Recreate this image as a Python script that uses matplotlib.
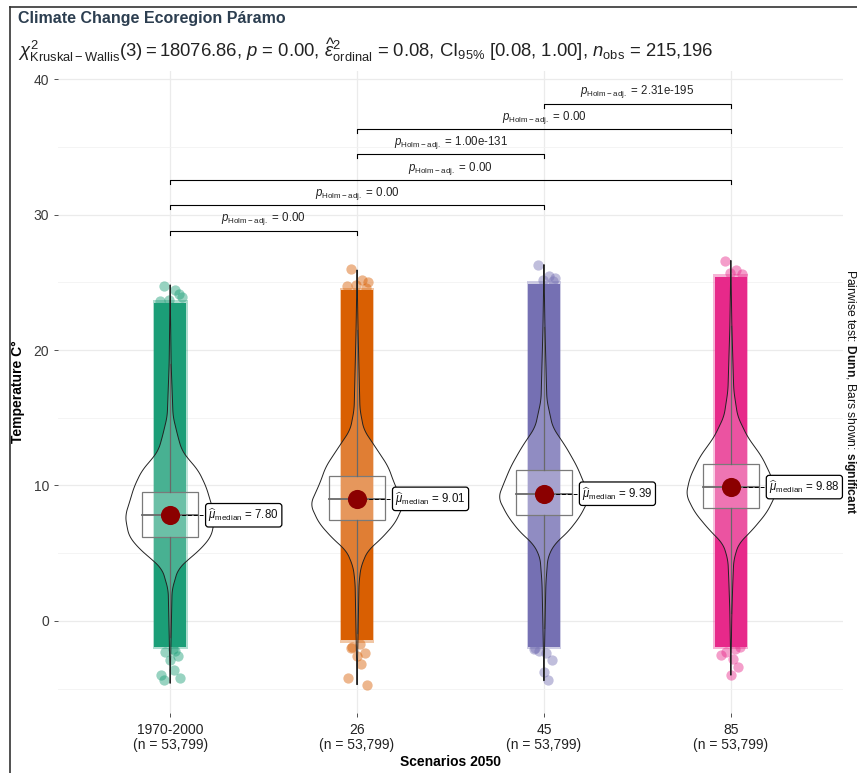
import numpy as np
import matplotlib
matplotlib.use("Agg")
import matplotlib.pyplot as plt
from matplotlib.patches import Rectangle, Polygon
from matplotlib.lines import Line2D

plt.rcParams.update({
    "font.family": ["Liberation Sans", "DejaVu Sans"],
    "mathtext.fontset": "custom",
    "mathtext.rm": "Liberation Sans",
    "mathtext.it": "Liberation Sans:italic",
    "mathtext.bf": "Liberation Sans:bold",
    "mathtext.sf": "Liberation Sans",
})

# ---- data -------------------------------------------------------------------
groups = ["1970-2000", "26", "45", "85"]
n_obs = [53799, 53799, 53799, 53799]
colors = ["#1B9E77", "#D95F02", "#7570B3", "#E7298A"]

medians = [7.80, 9.01, 9.39, 9.88]
q1 = [6.2, 7.45, 7.82, 8.3]
q3 = [9.55, 10.72, 11.14, 11.6]
whisk_lo = [-1.2, -0.9, -0.5, 0.6]
whisk_hi = [19.0, 21.5, 21.7, 21.8]

# dense part of the jittered cloud
cloud_lo = [-1.9, -1.4, -1.9, -1.9]
cloud_hi = [23.5, 24.4, 24.9, 25.4]
# sparse points at the extremes
tail_points = [
    [24.7, 24.4, 23.9, 23.7, 24.1, 23.6, -2.1, -2.3, -2.6, -2.9, -3.6, -4.0, -4.2, -4.4, -2.2],
    [26.0, 25.2, 25.0, 24.8, 24.6, 24.7, -1.7, -1.9, -2.4, -2.6, -3.2, -4.2, -4.7, -2.0],
    [26.3, 25.5, 25.3, 25.2, 25.1, -2.1, -2.4, -2.2, -2.9, -3.8, -4.4, -2.0],
    [26.6, 25.9, 25.6, 25.7, -1.9, -2.5, -2.8, -2.3, -3.4, -4.0, -2.1],
]

# violin outline: temperature levels and relative half-width
violin_levels = [
    [-4.6, -1.0, 2.3, 3.8, 4.5, 5.2, 6.2, 7.2, 7.8, 8.7, 9.9, 11.1, 12.1, 12.6, 13.6, 15.1, 19.0, 24.8],
    [-4.7, -1.0, 2.8, 4.0, 5.2, 6.0, 7.2, 8.6, 10.2, 11.4, 12.6, 14.1, 15.6, 21.5, 25.9],
    [-4.4, -0.5, 2.8, 4.7, 5.7, 6.5, 7.7, 9.1, 10.2, 11.4, 12.8, 14.3, 16.3, 21.7, 26.3],
    [-4.0, 0.6, 2.8, 4.5, 5.7, 6.7, 8.0, 9.3, 10.6, 12.1, 13.6, 15.1, 17.0, 21.8, 26.6],
]
violin_width = [
    [0, 1, 2, 8, 18, 30, 42, 45, 46, 42, 37, 29, 17, 12, 8, 3, 1, 0],
    [0, 1, 2, 4, 11, 24, 39, 48, 38, 32, 21, 7, 3, 1, 0],
    [0, 1, 2, 4, 11, 24, 37, 47, 41, 34, 23, 9, 3, 1, 0],
    [0, 1, 2, 3, 8, 22, 37, 46, 42, 32, 17, 7, 3, 1, 0],
]

pairs = [(1, 2), (1, 3), (1, 4), (2, 3), (2, 4), (3, 4)]
p_labels = ["0.00", "0.00", "0.00", "1.00e-131", "0.00", "2.31e-195"]

# ---- figure -----------------------------------------------------------------
fig = plt.figure(figsize=(8.57, 7.73), dpi=100)
ax = fig.add_axes([58 / 857, 1 - 713 / 773, 785 / 857, 642 / 773])

ax.set_xlim(0.4, 4.6)
ax.set_ylim(-6.8, 40.6)
ax.set_yticks([0, 10, 20, 30, 40])
ax.set_yticks([-5, 5, 15, 25, 35], minor=True)
ax.set_xticks(range(1, 5))
ax.set_xticklabels([f"{g}\n(n = {n:,})" for g, n in zip(groups, n_obs)],
                   fontsize=10, color="#222222", linespacing=1.15)
ax.tick_params(axis="y", which="major", labelsize=10, labelcolor="#3a3a3a",
               length=3, color="#333333", width=0.6)
ax.tick_params(axis="y", which="minor", length=0)
ax.tick_params(axis="x", length=3, color="#333333", width=0.6, pad=4)
ax.grid(True, which="major", color="#ebebeb", lw=0.9)
ax.grid(True, which="minor", axis="y", color="#f2f2f2", lw=0.6)
ax.set_axisbelow(True)
for s in ax.spines.values():
    s.set_visible(False)

ax.set_ylabel("Temperature C°", fontsize=10, fontweight="bold", labelpad=6)
ax.set_xlabel("Scenarios 2050", fontsize=10, fontweight="bold", labelpad=2)

jit = 0.085
box_half = 0.15
vmax = 0.25 / 48.0
tail_pattern = [-0.5, 0.4, 0.9, -0.1, 0.7, -0.8, 0.2, -0.4, 0.6, 0.0, 0.3, -0.7, 0.8]

for i, g in enumerate(groups):
    c = i + 1
    col = colors[i]
    # jittered cloud: soft outer rim + solid core
    ax.bar(c, cloud_hi[i] - cloud_lo[i] + 0.4, bottom=cloud_lo[i] - 0.2,
           width=2 * (jit + 0.008), color=col, alpha=0.35, lw=0, zorder=2)
    ax.bar(c, cloud_hi[i] - cloud_lo[i], bottom=cloud_lo[i], width=2 * jit,
           color=col, lw=0, zorder=2)
    tp = tail_points[i]
    offs = [tail_pattern[k % len(tail_pattern)] * jit * 0.8 for k in range(len(tp))]
    ax.scatter(np.array(offs) + c, tp, s=55, color=col, alpha=0.45, lw=0, zorder=2)

    # boxplot
    ax.add_patch(Rectangle((c - box_half, q1[i]), 2 * box_half, q3[i] - q1[i],
                           facecolor=(1, 1, 1, 0.2), edgecolor="#5a5a5a", lw=0.9, zorder=3))
    ax.plot([c - box_half, c + box_half], [medians[i]] * 2, color="#444444", lw=1.3, zorder=3)
    ax.plot([c, c], [q3[i], whisk_hi[i]], color="#444444", lw=0.9, zorder=3)
    ax.plot([c, c], [whisk_lo[i], q1[i]], color="#444444", lw=0.9, zorder=3)

    # violin
    lv = np.array(violin_levels[i], dtype=float)
    wv = np.array(violin_width[i], dtype=float)
    yy = np.linspace(lv[0], lv[-1], 400)
    ww = np.interp(yy, lv, wv)
    ww = np.convolve(np.pad(ww, 6, mode="edge"), np.ones(13) / 13, mode="valid")
    ww = np.maximum(ww, 0.35) * vmax
    xs = np.concatenate([c + ww, (c - ww)[::-1]])
    ys = np.concatenate([yy, yy[::-1]])
    ax.add_patch(Polygon(np.column_stack([xs, ys]), closed=True,
                         facecolor=(1, 1, 1, 0.2), edgecolor="#222222", lw=0.7, zorder=4))

    # median point + label
    ax.plot([c, c + 0.2], [medians[i]] * 2, color="black", lw=0.7,
            ls=(0, (4, 2)), zorder=5)
    ax.scatter([c], [medians[i]], s=190, color="#8B0000", zorder=6, lw=0)
    ax.text(c + 0.205, medians[i],
            r"$\widehat{\mu}_{\mathrm{median}}$" + f" = {medians[i]:.2f}",
            ha="left", va="center", fontsize=8.3, color="#111111", zorder=7,
            bbox=dict(boxstyle="round,pad=0.25,rounding_size=0.25",
                      facecolor="white", edgecolor="black", lw=0.9))

# pairwise comparison bars
for k, ((a, b), lab) in enumerate(zip(pairs, p_labels)):
    yb = 28.8 + k * 1.88
    ax.plot([a, a, b, b], [yb - 0.3, yb, yb, yb - 0.3], color="black", lw=0.8, zorder=5)
    ax.text((a + b) / 2, yb + 0.25, r"$p_{\mathrm{Holm-adj.}}$" + f" = {lab}",
            ha="center", va="bottom", fontsize=8.3, color="#222222", zorder=5)

# titles
fig.text(18 / 857, 1 - 19 / 773, "Climate Change Ecoregion Páramo", fontsize=11.5,
         fontweight="bold", color="#2c3e50", ha="left", va="center")
fig.text(18 / 857, 1 - 50 / 773,
         r"$\chi^2_{\mathrm{Kruskal-Wallis}}(3) = 18076.86$, $p$ = 0.00, "
         r"$\widehat{\epsilon}^2_{\mathrm{ordinal}}$ = 0.08, "
         r"$\mathrm{CI}_{95\%}$ [0.08, 1.00], $n_{\mathrm{obs}}$ = 215,196",
         fontsize=13.3, color="#222222", ha="left", va="center")

fig.text(850 / 857, 1 - 392 / 773,
         r"Pairwise test: $\mathbf{Dunn}$, Bars shown: $\mathbf{significant}$",
         rotation=270, fontsize=8.7, color="#111111", ha="center", va="center")

# outer frame (left and top)
fig.add_artist(Line2D([10 / 857, 10 / 857], [0, 1 - 7 / 773], color="#333333", lw=1.2))
fig.add_artist(Line2D([10 / 857, 1], [1 - 7 / 773, 1 - 7 / 773], color="#333333", lw=1.2))

fig.savefig("out.png", dpi=100, facecolor="white")
